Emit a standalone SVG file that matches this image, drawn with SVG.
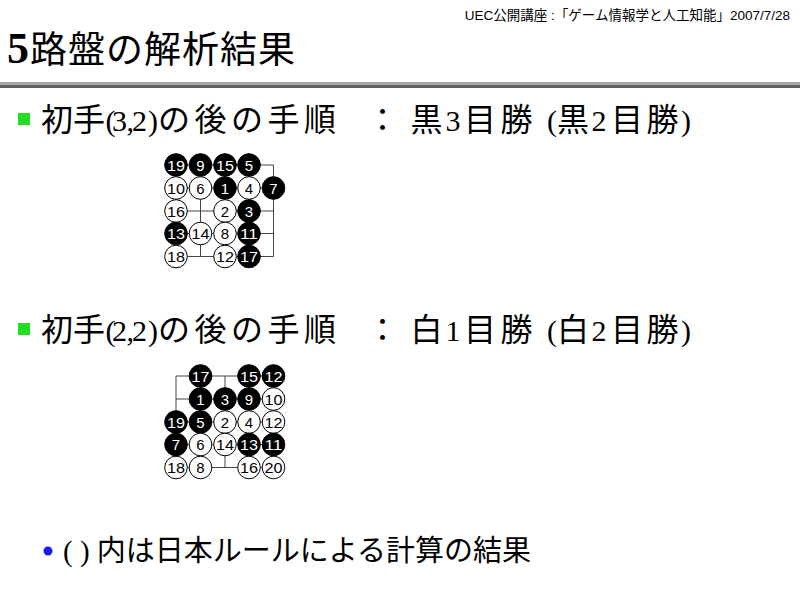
<svg xmlns="http://www.w3.org/2000/svg" width="800" height="600" viewBox="0 0 800 600">
<style>
.j{font-family:"Noto Sans CJK JP",sans-serif}
.r{font-family:"Liberation Serif","Noto Sans CJK JP",serif;font-size:30px}
.cjk{font-family:"Liberation Serif","Noto Sans CJK JP",serif;fill:#000}
.sans{font-family:"Liberation Sans","Noto Sans CJK JP",sans-serif;fill:#000}
.grid line{stroke:#444;stroke-width:1}
.b circle{fill:#000;stroke:#000;stroke-width:1}
.w circle{fill:#fff;stroke:#000;stroke-width:1}
.b text,.w text{font-family:"Liberation Sans",Arial,sans-serif;font-size:15px;text-anchor:middle}
.b text{fill:#fff}
.w text{fill:#000}
</style>
<rect width="800" height="600" fill="#fff"/>
<text class="sans" x="790" y="20" font-size="13.5" text-anchor="end">UEC公開講座 :「ゲーム情報学と人工知能」2007/7/28</text>
<text y="63"><tspan x="7" font-family="Liberation Serif,serif" font-weight="bold" font-size="44">5</tspan><tspan class="j" font-size="37" x="30 68 106 144 182 220 258">路盤の解析結果</tspan></text>
<rect x="0" y="82" width="800" height="3" fill="#a8a8a8"/>
<rect x="0" y="85" width="800" height="3" fill="#606060"/>

<rect x="18" y="113" width="12" height="12" fill="#22dd22"/>
<text y="131" font-size="32"><tspan class="j" x="41 73">初手</tspan><tspan class="r" x="105.5 112 126.5 132 148">(3,2)</tspan><tspan class="j" x="158 194.5 231 267.5 304">の後の手順</tspan></text>
<text class="j" x="366.5" y="131" font-size="32">：</text>
<text y="131" font-size="32"><tspan class="j" x="410.5">黒</tspan><tspan class="r" x="445.5">3</tspan><tspan class="j" x="464 500.5">目勝</tspan><tspan class="r" x="547">(</tspan><tspan class="j" x="557">黒</tspan><tspan class="r" x="591.5">2</tspan><tspan class="j" x="611 646.5">目勝</tspan><tspan class="r" x="681">)</tspan></text>

<rect x="18" y="323" width="12" height="12" fill="#22dd22"/>
<text y="341" font-size="32"><tspan class="j" x="41 73">初手</tspan><tspan class="r" x="105.5 112 126.5 132 148">(2,2)</tspan><tspan class="j" x="158 194.5 231 267.5 304">の後の手順</tspan></text>
<text class="j" x="366.5" y="341" font-size="32">：</text>
<text y="341" font-size="32"><tspan class="j" x="410.5">白</tspan><tspan class="r" x="445.5">1</tspan><tspan class="j" x="464 500.5">目勝</tspan><tspan class="r" x="547">(</tspan><tspan class="j" x="557">白</tspan><tspan class="r" x="591.5">2</tspan><tspan class="j" x="611 646.5">目勝</tspan><tspan class="r" x="681">)</tspan></text>

<circle cx="48" cy="551" r="4.5" fill="#1a1aff"/>
<text class="cjk" x="63" y="561" font-size="29">( ) 内は日本ルールによる計算の結果</text>

<g id="board1">
<g class="grid">
<line x1="176" y1="165" x2="273.5" y2="165"/>
<line x1="176" y1="188" x2="273.5" y2="188"/>
<line x1="176" y1="211" x2="273.5" y2="211"/>
<line x1="176" y1="233.5" x2="273.5" y2="233.5"/>
<line x1="176" y1="256.5" x2="273.5" y2="256.5"/>
<line x1="176" y1="165" x2="176" y2="256.5"/>
<line x1="200.5" y1="165" x2="200.5" y2="256.5"/>
<line x1="225" y1="165" x2="225" y2="256.5"/>
<line x1="249" y1="165" x2="249" y2="256.5"/>
<line x1="273.5" y1="165" x2="273.5" y2="256.5"/>
</g>
<g id="b1-19" class="b"><circle cx="176" cy="165" r="11.3"/><text x="176" y="170.5" textLength="18" lengthAdjust="spacingAndGlyphs">19</text></g>
<g id="b1-9" class="b"><circle cx="200.5" cy="165" r="11.3"/><text x="200.5" y="170.5">9</text></g>
<g id="b1-15" class="b"><circle cx="225" cy="165" r="11.3"/><text x="225" y="170.5" textLength="18" lengthAdjust="spacingAndGlyphs">15</text></g>
<g id="b1-5" class="b"><circle cx="249" cy="165" r="11.3"/><text x="249" y="170.5">5</text></g>
<g id="b1-10" class="w"><circle cx="176" cy="188" r="11.3"/><text x="176" y="193.5" textLength="18" lengthAdjust="spacingAndGlyphs">10</text></g>
<g id="b1-6" class="w"><circle cx="200.5" cy="188" r="11.3"/><text x="200.5" y="193.5">6</text></g>
<g id="b1-1" class="b"><circle cx="225" cy="188" r="11.3"/><text x="225" y="193.5">1</text></g>
<g id="b1-4" class="w"><circle cx="249" cy="188" r="11.3"/><text x="249" y="193.5">4</text></g>
<g id="b1-7" class="b"><circle cx="273.5" cy="188" r="11.3"/><text x="273.5" y="193.5">7</text></g>
<g id="b1-16" class="w"><circle cx="176" cy="211" r="11.3"/><text x="176" y="216.5" textLength="18" lengthAdjust="spacingAndGlyphs">16</text></g>
<g id="b1-2" class="w"><circle cx="225" cy="211" r="11.3"/><text x="225" y="216.5">2</text></g>
<g id="b1-3" class="b"><circle cx="249" cy="211" r="11.3"/><text x="249" y="216.5">3</text></g>
<g id="b1-13" class="b"><circle cx="176" cy="233.5" r="11.3"/><text x="176" y="239" textLength="18" lengthAdjust="spacingAndGlyphs">13</text></g>
<g id="b1-14" class="w"><circle cx="200.5" cy="233.5" r="11.3"/><text x="200.5" y="239" textLength="18" lengthAdjust="spacingAndGlyphs">14</text></g>
<g id="b1-8" class="w"><circle cx="225" cy="233.5" r="11.3"/><text x="225" y="239">8</text></g>
<g id="b1-11" class="b"><circle cx="249" cy="233.5" r="11.3"/><text x="249" y="239" textLength="18" lengthAdjust="spacingAndGlyphs">11</text></g>
<g id="b1-18" class="w"><circle cx="176" cy="256.5" r="11.3"/><text x="176" y="262" textLength="18" lengthAdjust="spacingAndGlyphs">18</text></g>
<g id="b1-12" class="w"><circle cx="225" cy="256.5" r="11.3"/><text x="225" y="262" textLength="18" lengthAdjust="spacingAndGlyphs">12</text></g>
<g id="b1-17" class="b"><circle cx="249" cy="256.5" r="11.3"/><text x="249" y="262" textLength="18" lengthAdjust="spacingAndGlyphs">17</text></g>
</g>

<g id="board2">
<g class="grid">
<line x1="176" y1="376" x2="273.5" y2="376"/>
<line x1="176" y1="399" x2="273.5" y2="399"/>
<line x1="176" y1="422" x2="273.5" y2="422"/>
<line x1="176" y1="444.5" x2="273.5" y2="444.5"/>
<line x1="176" y1="467.5" x2="273.5" y2="467.5"/>
<line x1="176" y1="376" x2="176" y2="467.5"/>
<line x1="200.5" y1="376" x2="200.5" y2="467.5"/>
<line x1="225" y1="376" x2="225" y2="467.5"/>
<line x1="249" y1="376" x2="249" y2="467.5"/>
<line x1="273.5" y1="376" x2="273.5" y2="467.5"/>
</g>
<g id="b2-17" class="b"><circle cx="200.5" cy="376" r="11.3"/><text x="200.5" y="381.5" textLength="18" lengthAdjust="spacingAndGlyphs">17</text></g>
<g id="b2-15" class="b"><circle cx="249" cy="376" r="11.3"/><text x="249" y="381.5" textLength="18" lengthAdjust="spacingAndGlyphs">15</text></g>
<g id="b2-12a" class="b"><circle cx="273.5" cy="376" r="11.3"/><text x="273.5" y="381.5" textLength="18" lengthAdjust="spacingAndGlyphs">12</text></g>
<g id="b2-1" class="b"><circle cx="200.5" cy="399" r="11.3"/><text x="200.5" y="404.5">1</text></g>
<g id="b2-3" class="b"><circle cx="225" cy="399" r="11.3"/><text x="225" y="404.5">3</text></g>
<g id="b2-9" class="b"><circle cx="249" cy="399" r="11.3"/><text x="249" y="404.5">9</text></g>
<g id="b2-10" class="w"><circle cx="273.5" cy="399" r="11.3"/><text x="273.5" y="404.5" textLength="18" lengthAdjust="spacingAndGlyphs">10</text></g>
<g id="b2-19" class="b"><circle cx="176" cy="422" r="11.3"/><text x="176" y="427.5" textLength="18" lengthAdjust="spacingAndGlyphs">19</text></g>
<g id="b2-5" class="b"><circle cx="200.5" cy="422" r="11.3"/><text x="200.5" y="427.5">5</text></g>
<g id="b2-2" class="w"><circle cx="225" cy="422" r="11.3"/><text x="225" y="427.5">2</text></g>
<g id="b2-4" class="w"><circle cx="249" cy="422" r="11.3"/><text x="249" y="427.5">4</text></g>
<g id="b2-12b" class="w"><circle cx="273.5" cy="422" r="11.3"/><text x="273.5" y="427.5" textLength="18" lengthAdjust="spacingAndGlyphs">12</text></g>
<g id="b2-7" class="b"><circle cx="176" cy="444.5" r="11.3"/><text x="176" y="450">7</text></g>
<g id="b2-6" class="w"><circle cx="200.5" cy="444.5" r="11.3"/><text x="200.5" y="450">6</text></g>
<g id="b2-14" class="w"><circle cx="225" cy="444.5" r="11.3"/><text x="225" y="450" textLength="18" lengthAdjust="spacingAndGlyphs">14</text></g>
<g id="b2-13" class="b"><circle cx="249" cy="444.5" r="11.3"/><text x="249" y="450" textLength="18" lengthAdjust="spacingAndGlyphs">13</text></g>
<g id="b2-11" class="b"><circle cx="273.5" cy="444.5" r="11.3"/><text x="273.5" y="450" textLength="18" lengthAdjust="spacingAndGlyphs">11</text></g>
<g id="b2-18" class="w"><circle cx="176" cy="467.5" r="11.3"/><text x="176" y="473" textLength="18" lengthAdjust="spacingAndGlyphs">18</text></g>
<g id="b2-8" class="w"><circle cx="200.5" cy="467.5" r="11.3"/><text x="200.5" y="473">8</text></g>
<g id="b2-16" class="w"><circle cx="249" cy="467.5" r="11.3"/><text x="249" y="473" textLength="18" lengthAdjust="spacingAndGlyphs">16</text></g>
<g id="b2-20" class="w"><circle cx="273.5" cy="467.5" r="11.3"/><text x="273.5" y="473" textLength="18" lengthAdjust="spacingAndGlyphs">20</text></g>
</g>
</svg>
